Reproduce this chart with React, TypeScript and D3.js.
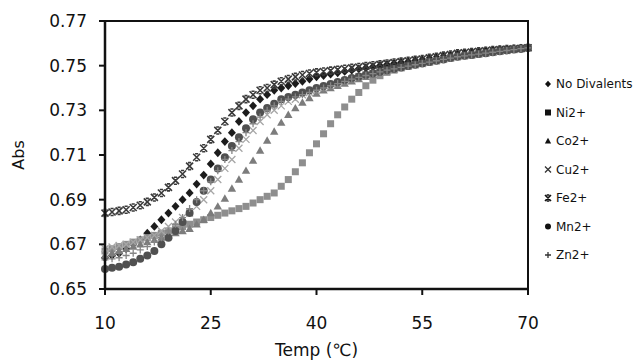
import * as d3 from 'd3';

const temps = [
  10, 11, 12, 13, 14, 15, 16, 17, 18, 19, 20, 21, 22, 23, 24, 25, 26, 27, 28, 29,
  30, 31, 32, 33, 34, 35, 36, 37, 38, 39, 40, 41, 42, 43, 44, 45, 46, 47, 48, 49,
  50, 51, 52, 53, 54, 55, 56, 57, 58, 59, 60, 61, 62, 63, 64, 65, 66, 67, 68, 69, 70,
];

const noDivalents = [
  0.664, 0.665, 0.666, 0.668, 0.670, 0.672, 0.675, 0.678, 0.681, 0.684, 0.687, 0.690, 0.693, 0.697, 0.701, 0.706, 0.711, 0.716, 0.720, 0.725,
  0.729, 0.732, 0.735, 0.737, 0.739, 0.740, 0.741, 0.742, 0.743, 0.744, 0.745, 0.7456, 0.7462, 0.7468, 0.7474, 0.748, 0.7486, 0.749, 0.7495, 0.75,
  0.7505, 0.751, 0.7514, 0.7518, 0.7522, 0.7527, 0.7532, 0.7537, 0.7542, 0.7547, 0.7552, 0.7556, 0.756, 0.7563, 0.7566, 0.7569, 0.7572, 0.7574, 0.7576, 0.7578, 0.758,
];

const ni = [
  0.667, 0.668, 0.669, 0.670, 0.671, 0.672, 0.673, 0.674, 0.675, 0.676, 0.677, 0.678, 0.679, 0.680, 0.681, 0.682, 0.683, 0.684, 0.685, 0.686,
  0.687, 0.6885, 0.690, 0.6915, 0.693, 0.696, 0.699, 0.7025, 0.7065, 0.711, 0.715, 0.7195, 0.724, 0.728, 0.7315, 0.735, 0.738, 0.741, 0.7435, 0.7455,
  0.747, 0.748, 0.749, 0.7497, 0.7504, 0.751, 0.7516, 0.7522, 0.7528, 0.7534, 0.754, 0.7544, 0.7548, 0.7552, 0.7556, 0.756, 0.7564, 0.7568, 0.7572, 0.7576, 0.758,
];

const co = [
  0.665, 0.666, 0.667, 0.668, 0.669, 0.670, 0.671, 0.672, 0.673, 0.674, 0.675, 0.676, 0.677, 0.679, 0.681, 0.684, 0.687, 0.6905, 0.695, 0.699,
  0.703, 0.7075, 0.712, 0.7165, 0.7205, 0.7245, 0.728, 0.731, 0.7335, 0.7355, 0.7375, 0.739, 0.740, 0.741, 0.742, 0.743, 0.744, 0.745, 0.7459, 0.7468,
  0.7476, 0.7484, 0.7491, 0.7498, 0.7504, 0.751, 0.7516, 0.7522, 0.7528, 0.7534, 0.754, 0.7544, 0.7548, 0.7552, 0.7556, 0.756, 0.7564, 0.7568, 0.7572, 0.7576, 0.758,
];

const cu = [
  0.668, 0.6688, 0.6695, 0.670, 0.671, 0.672, 0.673, 0.674, 0.676, 0.678, 0.680, 0.682, 0.684, 0.687, 0.690, 0.694, 0.699, 0.704, 0.708, 0.713,
  0.717, 0.721, 0.725, 0.728, 0.730, 0.732, 0.734, 0.735, 0.737, 0.738, 0.739, 0.740, 0.741, 0.742, 0.743, 0.744, 0.745, 0.7458, 0.7465, 0.7472,
  0.7479, 0.7486, 0.7492, 0.7498, 0.7504, 0.751, 0.7516, 0.7522, 0.7528, 0.7534, 0.754, 0.7544, 0.7548, 0.7552, 0.7556, 0.756, 0.7564, 0.7568, 0.7572, 0.7576, 0.758,
];

const fe = [
  0.684, 0.6845, 0.685, 0.6855, 0.6865, 0.6875, 0.689, 0.691, 0.693, 0.6955, 0.6985, 0.7015, 0.705, 0.709, 0.713, 0.717, 0.721, 0.725, 0.729, 0.732,
  0.735, 0.737, 0.739, 0.740, 0.7415, 0.743, 0.744, 0.745, 0.7458, 0.7465, 0.747, 0.7474, 0.7478, 0.7482, 0.7486, 0.749, 0.7494, 0.7498, 0.7502, 0.7506,
  0.751, 0.7514, 0.7518, 0.7522, 0.7526, 0.753, 0.7535, 0.754, 0.7545, 0.755, 0.7555, 0.7558, 0.7561, 0.7564, 0.7567, 0.757, 0.7572, 0.7574, 0.7576, 0.7578, 0.758,
];

const mn = [
  0.659, 0.6595, 0.660, 0.661, 0.662, 0.6635, 0.665, 0.667, 0.670, 0.673, 0.676, 0.680, 0.684, 0.689, 0.694, 0.699, 0.704, 0.709, 0.714, 0.718,
  0.722, 0.726, 0.729, 0.731, 0.733, 0.735, 0.736, 0.737, 0.738, 0.739, 0.740, 0.7409, 0.7418, 0.7427, 0.7436, 0.7445, 0.7452, 0.7459, 0.7466, 0.7473,
  0.748, 0.7486, 0.7492, 0.7498, 0.7504, 0.751, 0.7516, 0.7522, 0.7528, 0.7534, 0.754, 0.7544, 0.7548, 0.7552, 0.7556, 0.756, 0.7564, 0.7568, 0.7572, 0.7576, 0.758,
];

const zn = [
  0.663, 0.6635, 0.664, 0.665, 0.666, 0.6675, 0.669, 0.671, 0.673, 0.676, 0.679, 0.682, 0.686, 0.690, 0.694, 0.698, 0.703, 0.708, 0.712, 0.716,
  0.720, 0.724, 0.727, 0.730, 0.732, 0.734, 0.735, 0.736, 0.737, 0.738, 0.739, 0.740, 0.741, 0.742, 0.743, 0.744, 0.7448, 0.7456, 0.7464, 0.7472,
  0.748, 0.7486, 0.7492, 0.7498, 0.7504, 0.751, 0.7516, 0.7522, 0.7528, 0.7534, 0.754, 0.7544, 0.7548, 0.7552, 0.7556, 0.756, 0.7564, 0.7568, 0.7572, 0.7576, 0.758,
];

const xTicks = [10, 25, 40, 55, 70];
const yTicks = [0.65, 0.67, 0.69, 0.71, 0.73, 0.75, 0.77];

type Shape = 'diamond' | 'square' | 'triangle' | 'times' | 'star' | 'circle' | 'plus';

const series: { name: string; values: number[]; shape: Shape; color: string }[] = [
  { name: 'No Divalents', values: noDivalents, shape: 'diamond', color: '#1c1c1c' },
  { name: 'Ni2+', values: ni, shape: 'square', color: '#8e8e8e' },
  { name: 'Co2+', values: co, shape: 'triangle', color: '#7c7c7c' },
  { name: 'Cu2+', values: cu, shape: 'times', color: '#a6a6a6' },
  { name: 'Fe2+', values: fe, shape: 'star', color: '#3a3a3a' },
  { name: 'Mn2+', values: mn, shape: 'circle', color: '#505050' },
  { name: 'Zn2+', values: zn, shape: 'plus', color: '#858585' },
];

const W = 637;
const H = 361;
const plot = { left: 105, right: 528, top: 21, bottom: 289 };
const font = '"DejaVu Sans", Verdana, sans-serif';

function Marker({ shape, x, y, s, color }: { shape: Shape; x: number; y: number; s: number; color: string }) {
  const h = s / 2;
  const t = `translate(${x},${y})`;
  if (shape === 'diamond')
    return <path transform={t} d={`M0,${-h * 1.1}L${h},0L0,${h * 1.1}L${-h},0Z`} fill={color} />;
  if (shape === 'square') return <rect x={x - h} y={y - h} width={s} height={s} fill={color} />;
  if (shape === 'triangle')
    return <path transform={t} d={`M0,${-h * 1.05}L${h * 1.05},${h * 0.8}L${-h * 1.05},${h * 0.8}Z`} fill={color} />;
  if (shape === 'circle') return <circle cx={x} cy={y} r={h} fill={color} />;
  if (shape === 'times')
    return <path transform={t} d={`M${-h},${-h}L${h},${h}M${-h},${h}L${h},${-h}`} stroke={color} strokeWidth={1.3} fill="none" />;
  if (shape === 'plus')
    return <path transform={t} d={`M${-h},0L${h},0M0,${-h}L0,${h}`} stroke={color} strokeWidth={1.3} fill="none" />;
  // star: an x with short bars top and bottom
  return (
    <path
      transform={t}
      d={`M${-h},${-h}L${h},${h}M${-h},${h}L${h},${-h}M${-h * 0.45},${-h}L${h * 0.45},${-h}M${-h * 0.45},${h}L${h * 0.45},${h}`}
      stroke={color}
      strokeWidth={1.6}
      fill="none"
    />
  );
}

export default function App() {
  const x = d3.scaleLinear().domain([10, 70]).range([plot.left, plot.right]);
  const y = d3.scaleLinear().domain([0.65, 0.77]).range([plot.bottom, plot.top]);
  const legendY = d3.scalePoint<string>().domain(series.map((d) => d.name)).range([84, 255]);

  const markerSize = (sh: Shape) => (sh === 'circle' ? 8 : sh === 'diamond' || sh === 'triangle' ? 8 : 7);

  return (
    <svg width={W} height={H} style={{ position: 'absolute', left: 0, top: 0, background: '#fff' }} fontFamily={font}>
      <rect width={W} height={H} fill="#fff" />

      {/* markers */}
      {series.map((s) => (
        <g key={s.name}>
          {s.values.map((v, i) => (
            <Marker key={i} shape={s.shape} x={x(temps[i])} y={y(v)} s={markerSize(s.shape)} color={s.color} />
          ))}
        </g>
      ))}

      {/* frame */}
      <rect
        x={plot.left}
        y={plot.top}
        width={plot.right - plot.left}
        height={plot.bottom - plot.top}
        fill="none"
        stroke="#111"
        strokeWidth={2}
      />
      <line x1={plot.left} x2={plot.left} y1={plot.top} y2={plot.bottom + 1} stroke="#111" strokeWidth={2.5} />
      <line x1={plot.left - 1} x2={plot.right + 1} y1={plot.bottom} y2={plot.bottom} stroke="#111" strokeWidth={2.5} />

      {/* y axis */}
      {yTicks.map((t) => (
        <g key={t}>
          <line x1={plot.left - 6} x2={plot.left} y1={y(t)} y2={y(t)} stroke="#111" strokeWidth={2} />
          <text x={87} y={y(t)} dy="0.36em" textAnchor="end" fontSize={17} fill="#111">
            {t.toFixed(2)}
          </text>
        </g>
      ))}
      <text transform={`translate(24,${(plot.top + plot.bottom) / 2}) rotate(-90)`} textAnchor="middle" fontSize={16} fill="#111">
        Abs
      </text>

      {/* x axis */}
      {xTicks.map((t) => (
        <g key={t}>
          <line x1={x(t)} x2={x(t)} y1={plot.bottom} y2={plot.bottom + 6} stroke="#111" strokeWidth={2} />
          <text x={x(t)} y={323} dy="0.36em" textAnchor="middle" fontSize={17} fill="#111">
            {t}
          </text>
        </g>
      ))}
      <text x={(plot.left + plot.right) / 2} y={350} dy="0.36em" textAnchor="middle" fontSize={17} fill="#111">
        Temp (℃)
      </text>

      {/* legend */}
      {series.map((s) => (
        <g key={s.name}>
          <Marker shape={s.shape} x={548} y={legendY(s.name)!} s={6} color={s.shape === 'times' || s.shape === 'plus' ? '#333' : '#111'} />
          <text x={556} y={legendY(s.name)!} dy="0.36em" fontSize={12} fill="#111">
            {s.name}
          </text>
        </g>
      ))}
    </svg>
  );
}
